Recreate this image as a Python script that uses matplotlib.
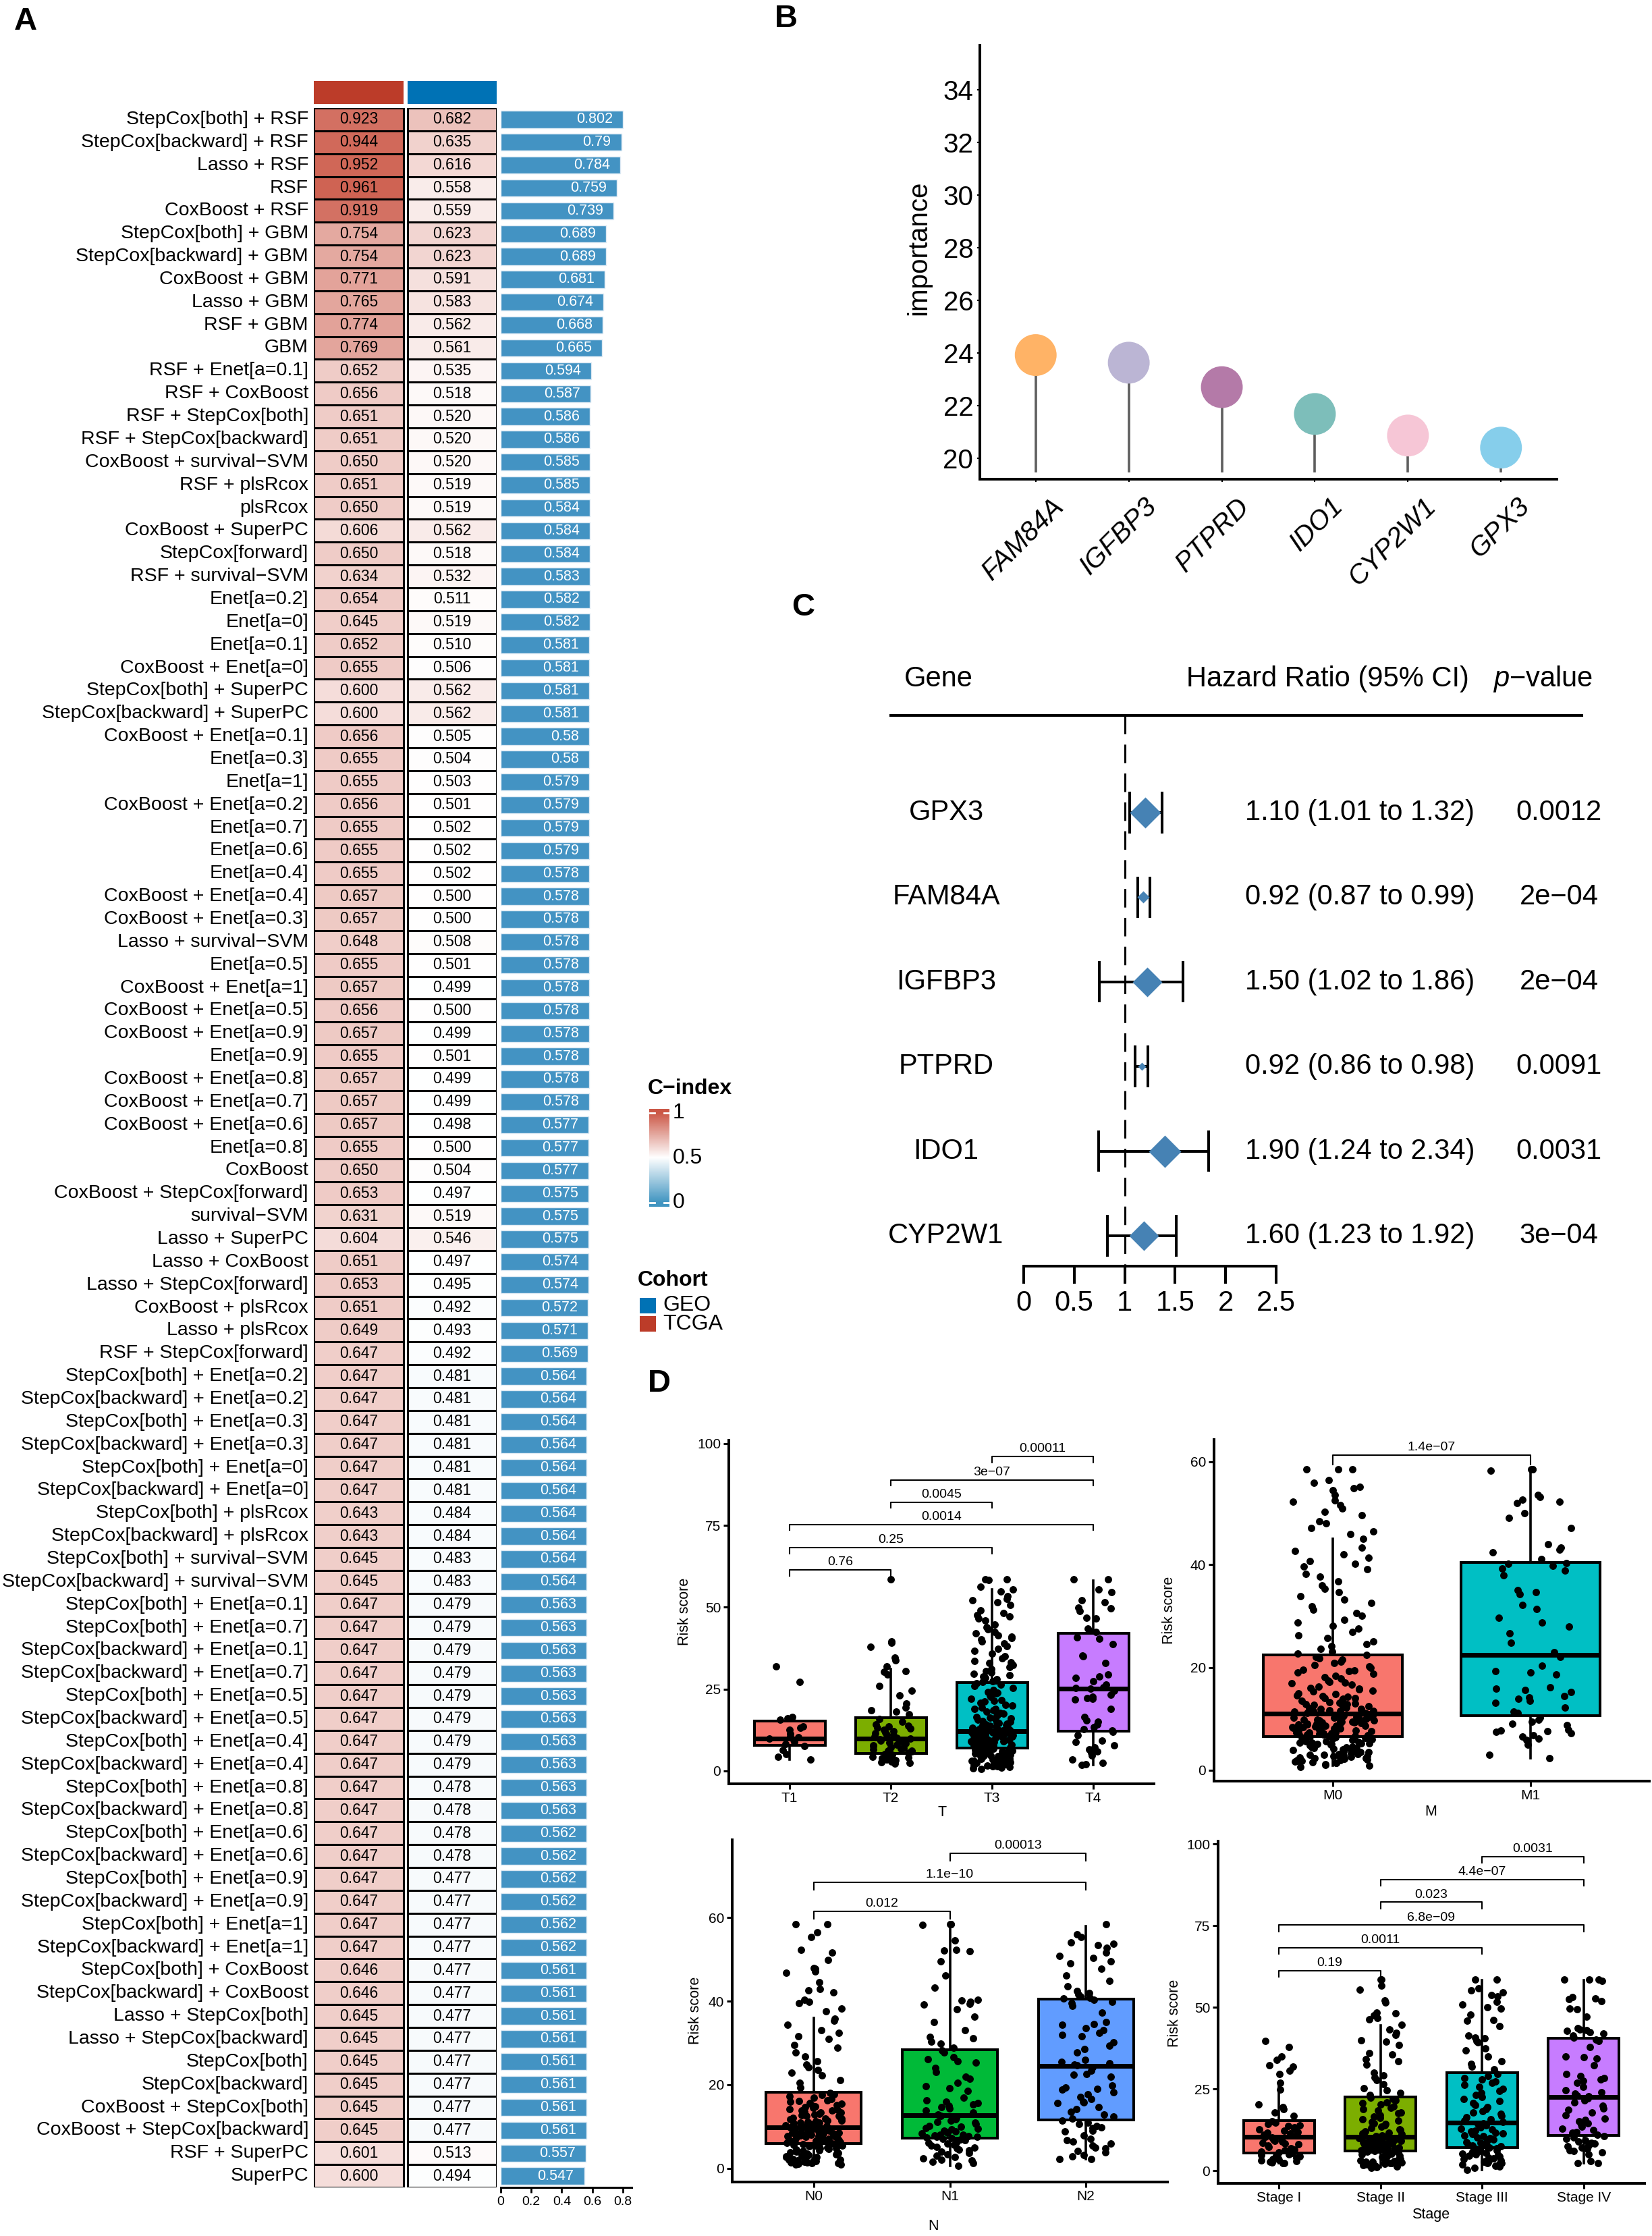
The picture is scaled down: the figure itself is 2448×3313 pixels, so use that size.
import matplotlib
matplotlib.use("Agg")
import matplotlib.pyplot as plt
import numpy as np
from matplotlib.colors import LinearSegmentedColormap
from matplotlib.patches import Rectangle
from matplotlib.lines import Line2D
from matplotlib import transforms

plt.rcParams['font.family'] = ['Liberation Sans', 'DejaVu Sans']
plt.rcParams['mathtext.fontset'] = 'custom'
plt.rcParams['mathtext.rm'] = 'Liberation Sans'
plt.rcParams['mathtext.it'] = 'Liberation Sans:italic'

# ---------------- data: panel A ----------------
models = [
    "StepCox[both] + RSF", "StepCox[backward] + RSF", "Lasso + RSF", "RSF", "CoxBoost + RSF",
    "StepCox[both] + GBM", "StepCox[backward] + GBM", "CoxBoost + GBM", "Lasso + GBM", "RSF + GBM", "GBM",
    "RSF + Enet[a=0.1]", "RSF + CoxBoost", "RSF + StepCox[both]", "RSF + StepCox[backward]",
    "CoxBoost + survival−SVM", "RSF + plsRcox", "plsRcox", "CoxBoost + SuperPC", "StepCox[forward]",
    "RSF + survival−SVM",
    "Enet[a=0.2]", "Enet[a=0]", "Enet[a=0.1]", "CoxBoost + Enet[a=0]", "StepCox[both] + SuperPC",
    "StepCox[backward] + SuperPC", "CoxBoost + Enet[a=0.1]", "Enet[a=0.3]", "Enet[a=1]", "CoxBoost + Enet[a=0.2]",
    "Enet[a=0.7]", "Enet[a=0.6]", "Enet[a=0.4]", "CoxBoost + Enet[a=0.4]", "CoxBoost + Enet[a=0.3]",
    "Lasso + survival−SVM", "Enet[a=0.5]", "CoxBoost + Enet[a=1]", "CoxBoost + Enet[a=0.5]", "CoxBoost + Enet[a=0.9]",
    "Enet[a=0.9]", "CoxBoost + Enet[a=0.8]", "CoxBoost + Enet[a=0.7]", "CoxBoost + Enet[a=0.6]", "Enet[a=0.8]",
    "CoxBoost", "CoxBoost + StepCox[forward]", "survival−SVM", "Lasso + SuperPC", "Lasso + CoxBoost",
    "Lasso + StepCox[forward]", "CoxBoost + plsRcox", "Lasso + plsRcox", "RSF + StepCox[forward]",
    "StepCox[both] + Enet[a=0.2]", "StepCox[backward] + Enet[a=0.2]", "StepCox[both] + Enet[a=0.3]",
    "StepCox[backward] + Enet[a=0.3]", "StepCox[both] + Enet[a=0]", "StepCox[backward] + Enet[a=0]",
    "StepCox[both] + plsRcox", "StepCox[backward] + plsRcox", "StepCox[both] + survival−SVM",
    "StepCox[backward] + survival−SVM", "StepCox[both] + Enet[a=0.1]", "StepCox[both] + Enet[a=0.7]",
    "StepCox[backward] + Enet[a=0.1]", "StepCox[backward] + Enet[a=0.7]", "StepCox[both] + Enet[a=0.5]",
    "StepCox[backward] + Enet[a=0.5]", "StepCox[both] + Enet[a=0.4]", "StepCox[backward] + Enet[a=0.4]",
    "StepCox[both] + Enet[a=0.8]", "StepCox[backward] + Enet[a=0.8]", "StepCox[both] + Enet[a=0.6]",
    "StepCox[backward] + Enet[a=0.6]", "StepCox[both] + Enet[a=0.9]", "StepCox[backward] + Enet[a=0.9]",
    "StepCox[both] + Enet[a=1]", "StepCox[backward] + Enet[a=1]", "StepCox[both] + CoxBoost",
    "StepCox[backward] + CoxBoost", "Lasso + StepCox[both]", "Lasso + StepCox[backward]", "StepCox[both]",
    "StepCox[backward]", "CoxBoost + StepCox[both]", "CoxBoost + StepCox[backward]", "RSF + SuperPC", "SuperPC",
]
tcga_c = [
    0.923, 0.944, 0.952, 0.961, 0.919, 0.754, 0.754, 0.771, 0.765, 0.774, 0.769,
    0.652, 0.656, 0.651, 0.651, 0.650, 0.651, 0.650, 0.606, 0.650, 0.634,
    0.654, 0.645, 0.652, 0.655, 0.600, 0.600, 0.656, 0.655, 0.655, 0.656,
    0.655, 0.655, 0.655, 0.657, 0.657, 0.648, 0.655, 0.657, 0.656, 0.657,
    0.655, 0.657, 0.657, 0.657, 0.655, 0.650, 0.653, 0.631, 0.604, 0.651,
    0.653, 0.651, 0.649, 0.647, 0.647, 0.647, 0.647, 0.647, 0.647, 0.647,
    0.643, 0.643, 0.645, 0.645, 0.647, 0.647, 0.647, 0.647, 0.647, 0.647,
    0.647, 0.647, 0.647, 0.647, 0.647, 0.647, 0.647, 0.647, 0.647, 0.647,
    0.646, 0.646, 0.645, 0.645, 0.645, 0.645, 0.645, 0.645, 0.601, 0.600,
]
geo_c = [
    0.682, 0.635, 0.616, 0.558, 0.559, 0.623, 0.623, 0.591, 0.583, 0.562, 0.561,
    0.535, 0.518, 0.520, 0.520, 0.520, 0.519, 0.519, 0.562, 0.518, 0.532,
    0.511, 0.519, 0.510, 0.506, 0.562, 0.562, 0.505, 0.504, 0.503, 0.501,
    0.502, 0.502, 0.502, 0.500, 0.500, 0.508, 0.501, 0.499, 0.500, 0.499,
    0.501, 0.499, 0.499, 0.498, 0.500, 0.504, 0.497, 0.519, 0.546, 0.497,
    0.495, 0.492, 0.493, 0.492, 0.481, 0.481, 0.481, 0.481, 0.481, 0.481,
    0.484, 0.484, 0.483, 0.483, 0.479, 0.479, 0.479, 0.479, 0.479, 0.479,
    0.479, 0.479, 0.478, 0.478, 0.478, 0.478, 0.477, 0.477, 0.477, 0.477,
    0.477, 0.477, 0.477, 0.477, 0.477, 0.477, 0.477, 0.477, 0.513, 0.494,
]
mean_c = [
    0.802, 0.79, 0.784, 0.759, 0.739, 0.689, 0.689, 0.681, 0.674, 0.668, 0.665,
    0.594, 0.587, 0.586, 0.586, 0.585, 0.585, 0.584, 0.584, 0.584, 0.583,
    0.582, 0.582, 0.581, 0.581, 0.581, 0.581, 0.58, 0.58, 0.579, 0.579,
    0.579, 0.579, 0.578, 0.578, 0.578, 0.578, 0.578, 0.578, 0.578, 0.578,
    0.578, 0.578, 0.578, 0.577, 0.577, 0.577, 0.575, 0.575, 0.575, 0.574,
    0.574, 0.572, 0.571, 0.569, 0.564, 0.564, 0.564, 0.564, 0.564, 0.564,
    0.564, 0.564, 0.564, 0.564, 0.563, 0.563, 0.563, 0.563, 0.563, 0.563,
    0.563, 0.563, 0.563, 0.563, 0.562, 0.562, 0.562, 0.562, 0.562, 0.562,
    0.561, 0.561, 0.561, 0.561, 0.561, 0.561, 0.561, 0.561, 0.557, 0.547,
]

# ---------------- data: panel B ----------------
genes_b = ["FAM84A", "IGFBP3", "PTPRD", "IDO1", "CYP2W1", "GPX3"]
importance = [23.92, 23.63, 22.70, 21.68, 20.86, 20.40]
colors_b = ["#FFB366", "#BBB5D4", "#B47AA8", "#7DBEBA", "#F6C6D6", "#86CEEB"]

# ---------------- data: panel C ----------------
genes_c = ["GPX3", "FAM84A", "IGFBP3", "PTPRD", "IDO1", "CYP2W1"]
hr_text = ["1.10 (1.01 to 1.32)", "0.92 (0.87 to 0.99)", "1.50 (1.02 to 1.86)",
           "0.92 (0.86 to 0.98)", "1.90 (1.24 to 2.34)", "1.60 (1.23 to 1.92)"]
p_text = ["0.0012", "2e−04", "2e−04", "0.0091", "0.0031", "3e−04"]
hr_pos = [1.20, 1.18, 1.22, 1.17, 1.40, 1.19]
lo_pos = [1.05, 1.13, 0.75, 1.10, 0.74, 0.83]
hi_pos = [1.37, 1.25, 1.58, 1.23, 1.83, 1.51]
diamond_px = [46, 18, 44, 11, 47, 44]

# ---------------- data: panel D ----------------
t_groups = ["T1", "T2", "T3", "T4"]
t_box = [(3.5, 7.8, 9.9, 15.3, 16.5), (2.6, 5.3, 9.9, 16.2, 31.1),
         (1.2, 7.0, 12.2, 27.0, 55.5), (1.9, 12.2, 25.1, 42.1, 58.2)]
t1_pts = [31.9, 27.2, 16.5, 16.1, 15.6, 13.6, 13.1, 12.5, 11.3, 10.6, 9.9, 9.4, 8.8, 8.2, 7.6, 6.4, 5.1, 4.3, 3.5, 10.2]
t2_pts = [58.5, 39.6, 39.2, 37.9, 34.6, 33.9, 31.9, 30.6, 30.2, 29.4, 26.0, 24.6, 23.1, 20.6, 19.4, 18.6, 18.1, 17.4,
          15.8, 15.1, 14.3, 13.9, 13.2, 12.6, 12.1, 11.8, 11.2, 10.9, 10.5, 10.1, 9.9, 9.6, 9.2, 8.9, 8.4, 8.1,
          7.8, 7.3, 7.1, 6.8, 6.5, 6.1, 5.9, 5.6, 5.4, 5.1, 4.7, 4.4, 4.1, 3.9, 3.6, 3.3, 3.1, 2.9, 2.7, 2.5,
          12.9, 11.5, 9.4, 7.6, 6.2, 4.9, 3.4, 2.3, 13.6, 8.7]
t3_pts = [58.5, 58.5, 58.4, 56.2, 55.4, 54.8, 53.3, 52.6, 52.1, 51.5, 50.7, 49.1, 48.2, 47.6, 47.1, 46.5, 45.9,
          44.8, 43.9, 43.2, 42.5, 42.1, 41.4, 40.7, 40.2, 39.6, 38.9, 38.1, 37.4, 36.6, 35.8, 35.1, 34.4, 33.6,
          32.9, 32.3, 31.7, 31.1, 30.6, 30.1, 29.6, 29.2, 28.8, 28.4, 28.0, 27.7, 27.4, 27.2, 33.1, 41.0,
          26.8, 26.4, 25.9, 25.3, 24.8, 24.2, 23.7, 23.1, 22.6, 22.1, 21.7, 21.2, 20.8, 20.3, 19.9, 19.4, 19.0,
          18.6, 18.2, 17.8, 17.5, 17.1, 16.8, 16.5, 16.2, 15.9, 15.6, 15.3, 15.0, 14.8, 14.6, 14.4, 14.2, 14.0,
          13.8, 13.6, 13.4, 13.2, 13.1, 12.9, 12.8, 12.6, 12.5, 12.4, 12.3, 12.2, 16.0, 18.9, 21.5, 23.9,
          12.1, 12.0, 11.9, 11.8, 11.6, 11.5, 11.3, 11.2, 11.0, 10.9, 10.7, 10.6, 10.4, 10.3, 10.1, 10.0, 9.8,
          9.7, 9.5, 9.4, 9.2, 9.1, 8.9, 8.8, 8.7, 8.5, 8.4, 8.3, 8.1, 8.0, 7.9, 7.8, 7.7, 7.6, 7.5, 7.4, 7.3,
          7.2, 7.1, 7.0, 9.9, 10.5, 11.1, 8.6, 9.3, 10.8, 11.7, 8.2, 7.7, 9.0,
          6.9, 6.8, 6.6, 6.5, 6.3, 6.2, 6.0, 5.9, 5.7, 5.6, 5.4, 5.3, 5.1, 5.0, 4.8, 4.7, 4.5, 4.4, 4.2, 4.1,
          3.9, 3.8, 3.6, 3.5, 3.3, 3.2, 3.0, 2.9, 2.7, 2.6, 2.4, 2.3, 2.1, 2.0, 1.8, 1.7, 1.5, 1.4, 1.2, 1.1,
          6.4, 5.8, 5.2, 4.6, 3.7, 3.1, 2.5, 1.9, 0.9, 0.7]
t4_pts = [58.5, 58.5, 55.4, 54.6, 52.1, 51.5, 49.9, 49.6, 48.9, 46.8, 46.6, 43.4, 42.9, 42.5,
          40.8, 40.3, 38.7, 35.3, 35.0, 33.0, 29.5, 28.8, 28.4, 27.5, 26.4, 25.6, 25.3, 25.1,
          24.6, 23.2, 22.6, 22.3, 22.0, 21.8, 18.9, 16.5, 15.5, 15.0, 14.2, 13.3, 12.8, 12.3,
          11.9, 11.0, 9.3, 8.9, 7.8, 7.3, 6.6, 5.9, 5.5, 4.8, 3.6, 2.5, 2.0, 1.9]
t_brackets = [(1, 2, 61.4, "0.76"), (1, 3, 68.2, "0.25"), (1, 4, 75.3, "0.0014"),
              (2, 3, 82.1, "0.0045"), (2, 4, 88.9, "3e−07"), (3, 4, 96.0, "0.00011")]

m_groups = ["M0", "M1"]
m_box = [(0.9, 6.5, 11.0, 22.5, 45.0), (2.4, 10.6, 22.4, 40.4, 58.1)]
m0_pts = [58.5, 58.5, 58.5, 56.4, 55.9, 55.1, 54.8, 54.5, 53.6, 52.5, 52.2, 51.6, 50.9, 50.2, 49.6, 48.4, 48.0,
          47.1, 46.4, 45.9, 45.0, 43.3, 42.6, 42.0, 41.4, 40.7, 40.2, 39.6, 39.1, 38.2, 37.6, 36.8, 35.9, 35.3,
          34.6, 33.9, 33.2, 32.6, 31.9, 31.2, 30.6, 30.0, 29.3, 28.7, 28.1, 27.5, 26.9, 26.3, 25.7, 25.1, 24.6,
          24.1, 23.6, 23.1, 22.7,
          22.4, 22.1, 21.8, 21.5, 21.1, 20.8, 20.5, 20.2, 19.9, 19.6, 19.3, 19.0, 18.7, 18.4, 18.1, 17.8, 17.5,
          17.2, 16.9, 16.6, 16.3, 16.0, 15.8, 15.5, 15.3, 15.0, 14.8, 14.5, 14.3, 14.1, 13.9, 13.7, 13.5, 13.3,
          13.1, 12.9, 12.7, 12.5, 12.3, 12.2, 12.0, 11.9, 11.8, 11.7, 11.6, 11.5, 11.4, 11.3, 11.2, 11.1, 11.0,
          17.0, 19.4, 14.6, 12.8,
          10.9, 10.8, 10.7, 10.6, 10.5, 10.4, 10.3, 10.2, 10.1, 10.0, 9.9, 9.8, 9.7, 9.6, 9.5, 9.4, 9.3, 9.2,
          9.1, 9.0, 8.9, 8.8, 8.7, 8.6, 8.5, 8.4, 8.3, 8.2, 8.1, 8.0, 7.9, 7.8, 7.7, 7.6, 7.5, 7.4, 7.3, 7.2,
          7.1, 7.0, 6.9, 6.8, 6.7, 6.6, 6.5, 10.6, 9.7, 8.9, 8.1, 7.4, 10.2, 9.3, 8.4, 7.7, 6.9,
          6.4, 6.3, 6.2, 6.1, 6.0, 5.9, 5.8, 5.7, 5.6, 5.5, 5.4, 5.3, 5.2, 5.1, 5.0, 4.9, 4.8, 4.7, 4.6, 4.5,
          4.4, 4.3, 4.2, 4.1, 4.0, 3.9, 3.8, 3.7, 3.6, 3.5, 3.4, 3.3, 3.2, 3.1, 3.0, 2.9, 2.8, 2.7, 2.6, 2.5,
          2.4, 2.3, 2.2, 2.1, 2.0, 1.9, 1.8, 1.7, 1.6, 1.5, 1.4, 1.2, 1.0, 0.9, 0.6,
          15.9, 13.0, 11.6, 10.4, 9.2, 8.2, 7.2, 6.2, 5.1, 4.0, 3.0, 2.0, 14.0, 12.1, 9.9, 8.6, 6.7, 5.4, 4.3, 2.7]
m1_pts = [58.5, 58.5, 58.5, 58.2, 53.5, 53.2, 52.6, 52.2, 51.9, 50.0, 49.1, 47.1, 43.9, 43.3, 42.9, 42.4, 41.1,
          40.3, 40.1, 39.8, 39.2, 38.9, 37.9, 35.0, 34.6, 34.2, 32.2, 31.4, 29.6, 28.8, 27.9, 26.7, 24.8, 23.0,
          22.0, 20.4, 19.3, 19.0, 18.6, 16.1, 15.9, 15.6, 15.2, 14.5, 14.2, 13.9, 13.5, 13.1, 12.2, 11.4, 11.1,
          10.3, 9.9, 9.5, 9.1, 8.8, 7.9, 7.8, 7.6, 7.5, 7.2, 6.8, 6.5, 6.2, 5.9, 5.0, 3.0, 2.4]
m_brackets = [(1, 2, 61.3, "1.4e−07")]

n_groups = ["N0", "N1", "N2"]
n_box = [(1.3, 5.9, 9.9, 18.3, 35.9), (0.7, 7.2, 12.7, 28.4, 58.1), (2.3, 11.6, 24.5, 40.5, 58.0)]
n0_pts = [58.5, 58.5, 56.5, 55.4, 52.3, 51.7, 49.9, 47.9, 47.8, 47.1, 46.8, 44.6, 43.0, 42.6, 42.1, 40.4, 39.9,
          39.5, 38.2, 37.6, 35.8, 35.3, 34.3, 33.1, 32.5, 31.7, 30.9, 29.6, 28.9, 27.8, 26.8, 25.6, 24.8, 24.2,
          23.5, 22.9, 22.3, 21.2, 20.5, 19.3,
          18.1, 17.8, 17.5, 17.2, 16.9, 16.6, 16.3, 16.0, 15.7, 15.5, 15.2, 15.0, 14.7, 14.5, 14.2, 14.0, 13.8,
          13.5, 13.3, 13.1, 12.9, 12.7, 12.5, 12.3, 12.1, 11.9, 11.7, 11.5, 11.3, 11.1, 10.9, 10.7, 10.5, 10.3,
          10.1, 10.0, 16.1, 13.9, 12.0, 11.0,
          9.8, 9.7, 9.6, 9.5, 9.4, 9.3, 9.2, 9.1, 9.0, 8.9, 8.8, 8.7, 8.6, 8.5, 8.4, 8.3, 8.2, 8.1, 8.0, 7.9,
          7.8, 7.7, 7.6, 7.5, 7.4, 7.3, 7.2, 7.1, 7.0, 6.9, 6.8, 6.7, 6.6, 6.5, 6.4, 6.3, 6.2, 6.1, 6.0, 5.9,
          5.8, 5.6, 5.4, 5.2, 5.0, 4.8, 4.6, 4.4, 4.2, 4.0, 3.8, 3.6, 3.4, 3.2, 3.0, 2.9, 2.8, 2.7, 2.6, 2.5,
          2.4, 2.3, 2.2, 2.1, 2.0, 1.9, 1.8, 1.7, 1.6, 1.5, 1.4, 1.3, 1.2, 1.1, 1.0, 0.9, 3.5, 4.5, 5.5, 2.5,
          14.8, 12.6, 10.8, 9.0, 7.5, 6.1, 4.9, 3.7, 2.2, 13.4, 11.4, 8.5, 6.8, 5.3]
n1_pts = [58.5, 58.5, 58.5, 58.3, 54.5, 52.3, 52.1, 52.0, 49.6, 46.1, 43.2, 40.4, 40.2, 39.8, 39.3, 39.2, 38.0,
          36.3, 35.0, 33.0, 31.5, 31.1, 30.4, 29.9, 28.9,
          28.2, 27.8, 26.6, 26.2, 25.7, 25.3, 24.1, 23.0, 22.0, 21.5, 20.5, 19.7, 19.2, 18.6, 17.0, 16.3, 15.9,
          15.6, 15.3, 15.0, 14.7, 14.4, 13.9, 13.4, 12.9,
          12.5, 12.1, 11.8, 11.4, 11.1, 10.9, 10.6, 10.2, 10.0, 9.7, 9.5, 9.3, 9.1, 8.9, 8.7, 8.5, 8.3, 8.1,
          8.0, 7.9, 7.8, 7.6, 7.5, 7.4, 7.3,
          7.1, 6.9, 6.7, 6.5, 6.3, 6.1, 5.9, 5.7, 5.5, 5.2, 5.0, 4.8, 4.5, 4.3, 4.0, 3.7, 3.3, 3.0, 2.7, 2.4,
          2.1, 1.9, 1.6, 1.2, 0.7]
n2_pts = [58.5, 56.0, 55.4, 54.1, 53.8, 53.4, 52.8, 51.7, 50.8, 50.3, 49.6, 49.1, 47.7, 46.1, 44.8, 43.6, 42.4,
          42.0, 41.6, 41.2, 40.9, 40.6,
          40.3, 39.9, 39.5, 38.9, 37.3, 35.0, 34.6, 34.3, 33.6, 33.0, 32.4, 32.0, 31.6, 30.2, 29.4, 28.6, 27.7,
          26.0, 25.5, 25.2, 24.9, 24.6,
          24.2, 23.4, 22.6, 22.4, 21.9, 19.9, 19.3, 19.1, 18.9, 18.2, 17.7, 17.1, 16.6, 16.0, 15.8, 15.6, 14.6,
          14.2, 13.6, 12.9, 12.4, 11.9,
          11.4, 11.0, 10.6, 10.1, 9.8, 9.6, 9.1, 8.9, 7.9, 7.1, 6.7, 6.5, 6.0, 5.4, 5.0, 4.9, 4.2, 3.8, 3.2,
          2.9, 2.3, 2.2]
n_brackets = [(1, 2, 61.5, "0.012"), (1, 3, 68.5, "1.1e−10"), (2, 3, 75.4, "0.00013")]

s_groups = ["Stage I", "Stage II", "Stage III", "Stage IV"]
s_box = [(2.3, 5.5, 10.3, 15.3, 27.1), (1.1, 6.1, 10.3, 22.6, 44.5),
         (0.3, 7.0, 14.7, 30.0, 58.4), (2.3, 10.7, 22.6, 40.5, 58.4)]
s1_pts = [39.7, 37.9, 34.9, 33.9, 32.2, 31.9, 30.7, 29.5, 27.0, 24.9, 20.3, 19.4, 18.8, 17.9, 16.7,
          15.2, 14.8, 14.3, 13.9, 13.6, 13.2, 12.9, 12.6, 12.2, 11.9, 11.6, 11.3, 11.0, 10.7, 10.4,
          10.1, 9.8, 9.5, 9.2, 8.9, 8.6, 8.3, 8.0, 7.6, 7.2, 6.8, 6.5, 6.2, 5.9, 5.6,
          5.3, 5.0, 4.8, 4.5, 4.3, 4.0, 3.8, 3.6, 3.4, 3.2, 3.0, 2.8, 2.6, 2.4, 2.3]
s2_pts = [58.5, 58.5, 56.6, 55.4, 52.2, 51.6, 48.4, 48.1, 47.5, 46.8, 46.4, 44.7, 43.2, 42.1, 41.5, 40.0, 39.6,
          38.5, 35.9, 35.5, 34.2, 33.5, 32.5, 30.1, 29.2, 28.6, 27.8, 26.5, 25.3, 24.6, 23.9, 23.2,
          22.3, 21.9, 21.5, 21.0, 20.6, 20.2, 19.7, 19.3, 18.8, 18.4, 17.9, 17.5, 17.0, 16.6, 16.2, 15.8, 15.4,
          15.0, 14.6, 14.2, 13.8, 13.4, 13.1, 12.7, 12.4, 12.0, 11.7, 11.4, 11.1, 10.8, 10.6, 10.4,
          10.2, 10.0, 9.9, 9.7, 9.6, 9.4, 9.3, 9.1, 9.0, 8.8, 8.7, 8.5, 8.4, 8.2, 8.1, 7.9, 7.8, 7.6, 7.5, 7.4,
          7.2, 7.1, 7.0, 6.9, 6.8, 6.7, 6.6, 6.5, 6.4, 6.3, 6.2, 6.1,
          6.0, 5.8, 5.6, 5.4, 5.2, 5.0, 4.8, 4.6, 4.4, 4.2, 4.0, 3.8, 3.6, 3.4, 3.2, 3.0, 2.9, 2.8, 2.7, 2.6,
          2.5, 2.4, 2.3, 2.2, 2.1, 2.0, 1.9, 1.7, 1.5, 1.3, 1.1, 0.9]
s3_pts = [58.5, 58.5, 55.8, 55.2, 54.5, 53.8, 53.3, 51.8, 50.8, 50.1, 49.6, 47.7, 46.1, 45.9, 44.3, 41.4, 40.8,
          40.5, 39.8, 39.3, 37.5, 36.9, 35.0, 33.5, 32.7, 31.8, 31.0,
          29.6, 29.0, 28.4, 27.9, 27.3, 26.8, 26.2, 25.6, 25.0, 24.4, 23.8, 23.2, 22.6, 22.0, 21.3, 20.7, 20.1,
          19.5, 18.9, 18.3, 17.8, 17.3, 16.8, 16.3, 15.8, 15.3, 14.9,
          14.5, 14.2, 13.9, 13.5, 13.2, 12.9, 12.6, 12.3, 12.0, 11.7, 11.4, 11.1, 10.8, 10.5, 10.2, 9.9, 9.6,
          9.3, 9.0, 8.7, 8.4, 8.1, 7.9, 7.7, 7.5, 7.3, 7.1,
          6.9, 6.6, 6.3, 6.0, 5.8, 5.5, 5.2, 5.0, 4.7, 4.5, 4.3, 4.0, 3.8, 3.6, 3.4, 3.2, 3.0, 2.8, 2.6, 2.4,
          2.2, 2.0, 1.8, 1.5, 1.2, 0.8, 0.3]
s4_pts = [58.5, 58.5, 58.5, 58.2, 53.2, 52.8, 52.6, 52.0, 49.7, 49.5, 47.2, 43.6, 43.2, 43.0, 42.8, 42.4, 42.0,
          41.4, 40.8,
          40.2, 39.8, 37.8, 35.0, 34.7, 34.3, 32.2, 29.6, 29.0, 28.4, 28.0, 27.5, 26.8, 25.6, 24.6, 24.1, 23.5,
          23.0, 22.8,
          22.2, 21.6, 21.0, 19.9, 19.1, 18.6, 17.9, 17.0, 15.9, 15.6, 15.2, 14.5, 14.0, 13.4, 12.8, 12.4, 11.9,
          11.5, 11.0,
          10.5, 10.1, 9.8, 9.4, 9.0, 8.6, 8.2, 7.9, 7.6, 7.4, 7.0, 6.6, 6.3, 6.0, 5.6, 5.0, 3.0, 2.4, 2.3]
s_brackets = [(1, 2, 61.3, "0.19"), (1, 3, 68.3, "0.0011"), (1, 4, 75.2, "6.8e−09"),
              (2, 3, 82.2, "0.023"), (2, 4, 89.1, "4.4e−07"), (3, 4, 96.1, "0.0031")]

col4 = ["#F8766D", "#7CAE00", "#00BFC4", "#C77CFF"]
col_m = ["#F8766D", "#00BFC4"]
col_n = ["#F8766D", "#00BA38", "#619CFF"]

# ---------------- figure ----------------
W, H = 2448, 3313
fig = plt.figure(figsize=(W / 100, H / 100), dpi=100)


def box(l, t, r, b):
    return [l / W, 1 - b / H, (r - l) / W, (b - t) / H]


def fx(px):
    return px / W


def fy(py):
    return 1 - py / H


for lab, x, y in [("A", 38, 32), ("B", 1165, 28), ("C", 1190, 900), ("D", 977, 2050)]:
    fig.text(fx(x), fy(y), lab, fontsize=34, fontweight="bold", ha="center", va="center")

# ---------- A: heatmap ----------
n = len(models)
cmap = LinearSegmentedColormap.from_list("cidx", ["#4195C1", "#FFFFFF", "#CB5746"])
axh = fig.add_axes(box(465, 160, 736, 3241))
axh.set_xlim(0, 271)
axh.set_ylim(n, 0)
axh.axis("off")
cols_x = [(0, 133), (139, 132)]
for (x0, w), vals, hc in zip(cols_x, [tcga_c, geo_c], ["#BC3C29", "#0072B5"]):
    axh.add_patch(Rectangle((x0, -1.18), w, 1.0, fc=hc, ec="none", clip_on=False))
    for i, v in enumerate(vals):
        axh.add_patch(Rectangle((x0, i), w, 1, fc=cmap(v), ec="black", lw=2.2))
        axh.text(x0 + w / 2, i + 0.5, f"{v:.3f}", ha="center", va="center", fontsize=16.5)
for i, name in enumerate(models):
    axh.text(-8, i + 0.5, name, ha="right", va="center", fontsize=20.5)

axb = fig.add_axes(box(742, 160, 742 + 0.86 * 226, 3241))
axb.set_xlim(0, 0.86)
axb.set_ylim(n, 0)
ypos = np.arange(n) + 0.5
axb.barh(ypos, mean_c, height=0.75, color="#4393C3", edgecolor="#DCE9F3", lw=1.0)
shift = transforms.ScaledTranslation(-15 / 100, 0, fig.dpi_scale_trans)
for y, v in zip(ypos, mean_c):
    axb.text(v, y, f"{v:g}", ha="right", va="center", color="white", fontsize=15.5,
             transform=axb.transData + shift)
for s in ["top", "right", "left"]:
    axb.spines[s].set_visible(False)
axb.spines["bottom"].set_linewidth(2.2)
axb.set_yticks([])
axb.set_xticks([0, 0.2, 0.4, 0.6, 0.8], ["0", "0.2", "0.4", "0.6", "0.8"])
axb.tick_params(axis="x", length=6, width=2, labelsize=14, pad=3)

# legends
fig.text(fx(960), fy(1613), "C−index", fontsize=23, fontweight="bold", ha="left", va="center")
axc = fig.add_axes(box(962, 1643, 992, 1788))
grad = np.linspace(1.045, -0.045, 256)[:, None]
axc.imshow(grad, cmap=cmap, vmin=0, vmax=1, aspect="auto", extent=(0, 1, -0.045, 1.045))
axc.set_xlim(0, 1)
axc.set_ylim(-0.045, 1.045)
axc.axis("off")
for v in [0, 1]:
    axc.plot([0.02, 0.28], [v, v], color="white", lw=2)
    axc.plot([0.72, 0.98], [v, v], color="white", lw=2)
for v, t in [(1, "1"), (0.5, "0.5"), (0, "0")]:
    axc.text(1.17, v, t, fontsize=23, ha="left", va="center", transform=axc.transData)
fig.text(fx(945), fy(1897), "Cohort", fontsize=23, fontweight="bold", ha="left", va="center")
for (top, c, t) in [(1923, "#0072B5", "GEO"), (1950, "#BC3C29", "TCGA")]:
    fig.add_artist(Rectangle((fx(948), fy(top + 23)), 24 / W, 23 / H, transform=fig.transFigure,
                             fc=c, ec="none"))
    fig.text(fx(982), fy(top + 11.5), t, fontsize=23, ha="left", va="center")

# ---------- B: lollipop ----------
axB = fig.add_axes(box(1452, 67, 2307, 710))
xb = np.arange(1, len(genes_b) + 1)
axB.vlines(xb, 19.45, importance, color="#5E5E5E", lw=2.6, zorder=2)
axB.scatter(xb, importance, s=44.6 ** 2, c=colors_b, edgecolors="none", zorder=3)
axB.set_xlim(0.4, 6.6)
axB.set_ylim(19.2, 35.7)
for s in ["top", "right"]:
    axB.spines[s].set_visible(False)
for s in ["left", "bottom"]:
    axB.spines[s].set_linewidth(2.9)
axB.set_yticks(range(20, 35, 2))
axB.tick_params(axis="y", length=3, width=1.5, labelsize=29, pad=4)
axB.set_xticks(xb, genes_b, rotation=45, ha="right", rotation_mode="anchor",
               fontstyle="italic", fontsize=29)
axB.tick_params(axis="x", length=3, width=1.5, pad=12)
xshift = transforms.ScaledTranslation(22 / 100, 0, fig.dpi_scale_trans)
for lab in axB.get_xticklabels():
    lab.set_transform(lab.get_transform() + xshift)
fig.text(fx(1361), fy(367), "importance", rotation=90, fontsize=29, ha="center", va="center")

# ---------- C: forest ----------
axF = fig.add_axes(box(1517, 1060, 1891, 1876))
axF.set_xlim(0, 2.5)
axF.set_ylim(5.359, -1.148)
for s in ["top", "right", "left"]:
    axF.spines[s].set_visible(False)
axF.spines["bottom"].set_linewidth(2.9)
axF.set_yticks([])
axF.set_xticks([0, 0.5, 1, 1.5, 2, 2.5], ["0", "0.5", "1", "1.5", "2", "2.5"])
axF.tick_params(axis="x", length=19, width=2.9, labelsize=30, pad=6)
axF.plot([1, 1], [-1.148, 5.59], color="black", lw=2.2, ls=(0, (9, 5)), clip_on=False)
rows = np.arange(len(genes_c))
axF.hlines(rows, lo_pos, hi_pos, color="black", lw=2.9)
axF.vlines(lo_pos, rows - 0.245, rows + 0.245, color="black", lw=2.9)
axF.vlines(hi_pos, rows - 0.245, rows + 0.245, color="black", lw=2.9)
for r, h, dp in zip(rows, hr_pos, diamond_px):
    axF.plot(h, r, marker="D", ms=dp * 0.72 / 1.414, color="#4682B4", mec="none", zorder=5)
tr = transforms.blended_transform_factory(fig.transFigure, axF.transData)
for r, g, ht, pt in zip(rows, genes_c, hr_text, p_text):
    axF.text(fx(1402), r, g, transform=tr, fontsize=30, ha="center", va="center")
    axF.text(fx(2015), r, ht, transform=tr, fontsize=30, ha="center", va="center")
    axF.text(fx(2310), r, pt, transform=tr, fontsize=30, ha="center", va="center")
fig.text(fx(1340), fy(1006), "Gene", fontsize=30, ha="left", va="center")
fig.text(fx(1967), fy(1006), "Hazard Ratio (95% CI)", fontsize=30, ha="center", va="center")
fig.text(fx(2286), fy(1006), "$p$−value", fontsize=30, ha="center", va="center")
fig.add_artist(Line2D([fx(1320), fx(2344)], [fy(1060), fy(1060)], transform=fig.transFigure,
                      color="black", lw=2.9))


# ---------- D: box plots ----------
def draw_panel(ax, cats, pts, boxst, cols, ylim, yticks, brackets, tick_h):
    pos = np.arange(1, len(cats) + 1)
    stats = [dict(whislo=b[0], q1=b[1], med=b[2], q3=b[3], whishi=b[4]) for b in boxst]
    res = ax.bxp(stats, positions=pos, widths=0.7, patch_artist=True, showfliers=False,
                 showcaps=False, manage_ticks=False,
                 boxprops=dict(lw=2.9, edgecolor="black"),
                 medianprops=dict(color="black", lw=5),
                 whiskerprops=dict(color="black", lw=2.6))
    for patch, c in zip(res["boxes"], cols):
        patch.set_facecolor(c)
    for k, v in enumerate(pts):
        v = np.asarray(v)
        idx = np.arange(len(v)) + 7 * k
        # deterministic jitter offset (hash-like), horizontal spread only
        off = ((np.sin(idx * 12.9898 + 78.233) * 43758.5453) % 1.0 - 0.5) * 0.42
        ax.scatter(pos[k] + off, v, s=62, color="black", lw=0, zorder=4)
    for i, j, y, lab in brackets:
        ax.plot([i, i, j, j], [y - tick_h, y, y, y - tick_h], color="black", lw=1.5, clip_on=False)
        ax.annotate(lab, ((i + j) / 2, y), xytext=(0, 2), textcoords="offset points",
                    ha="center", va="bottom", fontsize=14)
    ax.set_xlim(0.4, len(cats) + 0.6)
    ax.set_ylim(*ylim)
    ax.set_yticks(yticks)
    ax.set_xticks(pos, cats)
    for s in ["top", "right"]:
        ax.spines[s].set_visible(False)
    for s in ["left", "bottom"]:
        ax.spines[s].set_linewidth(2.9)
    ax.tick_params(length=5.5, width=2.2, labelsize=15, pad=3)


axT = fig.add_axes(box(1080, 2134, 1710, 2643))
draw_panel(axT, t_groups, [t1_pts, t2_pts, t3_pts, t4_pts], t_box, col4, (-3.92, 101.0),
           [0, 25, 50, 75, 100], t_brackets, 1.75)
axM = fig.add_axes(box(1799, 2133, 2444, 2639))
draw_panel(axM, m_groups, [m0_pts, m1_pts], m_box, col_m, (-2.1, 64.3),
           [0, 20, 40, 60], m_brackets, 1.9)
axN = fig.add_axes(box(1085, 2726, 1730, 3233))
draw_panel(axN, n_groups, [n0_pts, n1_pts, n2_pts], n_box, col_n, (-3.25, 78.6),
           [0, 20, 40, 60], n_brackets, 1.8)
axS = fig.add_axes(box(1805, 2728, 2437, 3235))
draw_panel(axS, s_groups, [s1_pts, s2_pts, s3_pts, s4_pts], s_box, col4, (-3.9, 100.9),
           [0, 25, 50, 75, 100], s_brackets, 1.9)

for x, y in [(1014, 2388), (1733, 2386), (1031, 2979), (1741, 2983)]:
    fig.text(fx(x), fy(y), "Risk score", rotation=90, fontsize=15.5, ha="center", va="center")
for x, y, t in [(1396, 2685, "T"), (2120, 2684, "M"), (1383, 3298, "N"), (2120, 3281, "Stage")]:
    fig.text(fx(x), fy(y), t, fontsize=15.5, ha="center", va="center")

fig.savefig("out.png", dpi=100)
